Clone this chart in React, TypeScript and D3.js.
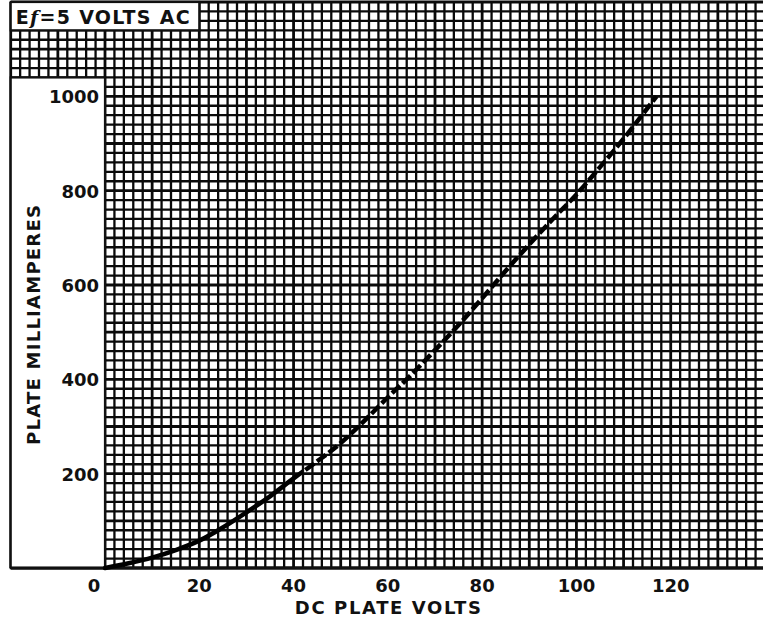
import React from "react";
import { scaleLinear, line, curveMonotoneX, range } from "d3";

// plate characteristic
const volts = [0, 5, 10, 15, 20, 25, 30, 35, 40, 45, 50, 55, 60, 65, 70, 75, 80, 85, 90, 95, 100, 105, 110, 117];
const milliamps = [0, 10, 22, 38, 58, 86, 118, 152, 190, 226, 265, 312, 362, 410, 462, 515, 572, 630, 686, 740, 792, 850, 910, 1000];
const solidUntil = 42; // curve is solid up to here, dashed after

const xTicks = [0, 20, 40, 60, 80, 100, 120];
const yTicks = [200, 400, 600, 800, 1000];

const W = 763;
const H = 623;
const font = "'DejaVu Sans', sans-serif";

export default function App() {
  const x = scaleLinear().domain([0, 140]).range([105, 765]);
  const y = scaleLinear().domain([0, 1200]).range([568, 2]);

  const pts = volts.map((v, i) => ({ v, ma: milliamps[i] }));
  const path = line<{ v: number; ma: number }>()
    .x((d) => x(d.v))
    .y((d) => y(d.ma))
    .curve(curveMonotoneX);
  const solid = pts.filter((d) => d.v <= solidUntil + 5);
  const dashed = pts.filter((d) => d.v >= solidUntil - 2);

  const vLines = range(-20, 142, 2);
  const hLines = range(0, 1220, 20);

  return (
    <svg width={W} height={H} style={{ position: "absolute", left: 0, top: 0, background: "#fff" }}>
      {/* graph paper */}
      <g stroke="#0a0a0a">
        {vLines.map((v) => (
          <line key={"v" + v} x1={x(v)} x2={x(v)} y1={y(0)} y2={y(1200)} strokeWidth={v % 10 === 0 ? 2.8 : 2.3} />
        ))}
        {hLines.map((m) => (
          <line key={"h" + m} x1={x(-20)} x2={W} y1={y(m)} y2={y(m)} strokeWidth={m % 100 === 0 ? 2.8 : 2.3} />
        ))}
      </g>

      {/* white label area left of the axis */}
      <rect x={x(-20)} y={y(1040)} width={x(0) - x(-20)} height={y(0) - y(1040)} fill="#fff" stroke="#111" strokeWidth={2.2} />
      <line x1={x(-20)} x2={W} y1={y(0)} y2={y(0)} stroke="#111" strokeWidth={2.8} />

      {/* title box */}
      <rect x={x(-20)} y={y(1200)} width={x(20) - x(-20)} height={y(1140) - y(1200)} fill="#fff" stroke="#111" strokeWidth={2.2} />
      <text x={x(-20) + 5} y={y(1140) - 6} fontFamily={font} fontWeight="bold" fontSize={19} fill="#111" textLength={174}>
        <tspan>E</tspan>
        <tspan fontStyle="italic" fontFamily="'DejaVu Serif', serif">f</tspan>
        <tspan>=5 VOLTS AC</tspan>
      </text>

      {/* curve */}
      <path d={path(solid) || ""} fill="none" stroke="#000" strokeWidth={4.5} strokeLinecap="round" clipPath="url(#solidClip)" />
      <path d={path(dashed) || ""} fill="none" stroke="#000" strokeWidth={4.5} strokeDasharray="11 3.5" clipPath="url(#dashClip)" />
      <defs>
        <clipPath id="solidClip">
          <rect x={0} y={0} width={x(solidUntil)} height={H} />
        </clipPath>
        <clipPath id="dashClip">
          <rect x={x(solidUntil)} y={0} width={W} height={H} />
        </clipPath>
      </defs>

      {/* tick labels */}
      {xTicks.map((t) => (
        <text key={"xt" + t} x={x(t) - (t === 0 ? 11 : 0)} y={592} textAnchor="middle" fontFamily={font} fontWeight="bold" fontSize={18} fill="#111">
          {t}
        </text>
      ))}
      {yTicks.map((t) => (
        <text key={"yt" + t} x={99} y={y(t) + 7} textAnchor="end" fontFamily={font} fontWeight="bold" fontSize={18} fill="#111">
          {t}
        </text>
      ))}

      {/* axis titles */}
      <text x={x(60)} y={614} textAnchor="middle" fontFamily={font} fontWeight="bold" fontSize={18} fill="#111" textLength={186}>
        DC PLATE VOLTS
      </text>
      <text transform={`translate(40, 325) rotate(-90)`} textAnchor="middle" fontFamily={font} fontWeight="bold" fontSize={18} fill="#111" textLength={240}>
        PLATE MILLIAMPERES
      </text>
    </svg>
  );
}
